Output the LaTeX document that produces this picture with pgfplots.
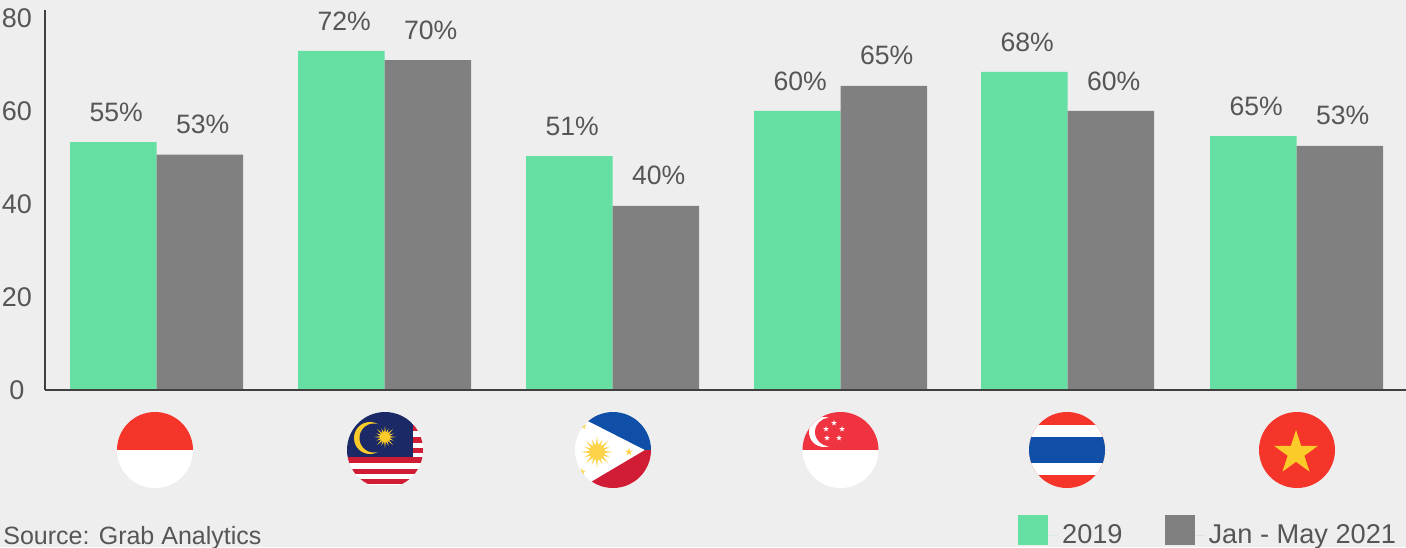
\documentclass[border=0pt]{standalone}
\usepackage{pgfplots}
\pgfplotsset{compat=1.18}
\usepackage{fontspec}
\setmainfont{Liberation Sans}
\definecolor{bg}{HTML}{EEEEEE}
\definecolor{barg}{HTML}{66DFA3}
\definecolor{bargr}{HTML}{808080}
\definecolor{txt}{HTML}{565656}
\definecolor{axl}{HTML}{404040}
\definecolor{fred}{HTML}{F5352A}
\definecolor{fblue}{HTML}{0F4FA8}
\definecolor{fnavy}{HTML}{1B2A66}
\definecolor{fyel}{HTML}{FBCB2A}
\definecolor{fcrim}{HTML}{D01C34}
\definecolor{fsg}{HTML}{EF3340}
\newcommand\pstar[4]{\fill[#4,shift={(#1,#2)}] (-90:#3) -- (-54:#3*.382) -- (-18:#3) -- (18:#3*.382) -- (54:#3) -- (90:#3*.382) -- (126:#3) -- (162:#3*.382) -- (198:#3) -- (234:#3*.382) -- cycle;}
\newcommand\psun[4]{\begin{scope}[shift={(#1,#2)}]
\fill[#4] (0,0) circle[radius=#3*.5];
\foreach \a in {0,45,...,315}{\fill[#4] (\a-9:#3*.45) -- (\a:#3) -- (\a+9:#3*.45) -- cycle;}
\foreach \a in {22.5,67.5,...,337.5}{\fill[#4] (\a-9:#3*.45) -- (\a:#3*.85) -- (\a+9:#3*.45) -- cycle;}
\end{scope}}
\begin{document}
\begin{tikzpicture}[x=.5pt,y=-.5pt]
\path[use as bounding box,fill=bg] (0,0) rectangle (1406,547);
\begin{axis}[
  at={(22.5pt,-195pt)},anchor=south west,
  scale only axis,width=680.5pt,height=190pt,
  xmin=45,xmax=1406,ymin=0,ymax=81.7,
  axis x line*=bottom,axis y line*=left,
  axis line style={axl,line width=1pt,-},
  axis on top,
  xtick=\empty,
  ytick={0,20,40,60,80},
  major tick length=0pt,
  tick style={draw=none},
  /pgf/number format/assume math mode=true,
  yticklabel style={anchor=center,xshift=-14pt,font=\fontsize{13.5}{15}\selectfont,text=txt},
  ybar=0pt,
  bar width=86.5,
  clip=false,
  point meta=explicit symbolic,
  nodes near coords,
  every node near coord/.append style={anchor=center,yshift=15pt,xshift=1.5pt,font=\fontsize{13.3}{15}\selectfont,text=txt},
  legend columns=2,
  legend cell align=left,
  legend image code/.code={\fill[#1] (0pt,-5pt) rectangle (15pt,10pt);\path (0pt,0pt) -- (20pt,0pt);},
  legend style={at={(0.715,-0.376)},anchor=west,draw=none,fill=none,inner sep=0pt,outer sep=0pt,
    font=\fontsize{13.6}{15}\selectfont,text=txt,
    /tikz/every even column/.append style={column sep=19pt}},
]
\addplot[fill=barg,draw=none,bar shift=-43.25] coordinates {
 (156.5,53.3)[55\%] (384.5,72.9)[72\%] (612.5,50.3)[51\%] (840.5,60)[60\%] (1067.5,68.4)[68\%] (1296.5,54.6)[65\%]};
\addplot[fill=bargr,draw=none,bar shift=43.25] coordinates {
 (156.5,50.6)[53\%] (384.5,70.9)[70\%] (612.5,39.6)[40\%] (840.5,65.4)[65\%] (1067.5,60)[60\%] (1296.5,52.5)[53\%]};
\legend{2019,Jan - May 2021}
\end{axis}
% Indonesia
\begin{scope}
\clip (155,450) circle[radius=38];
\fill[fred] (110,405) rectangle (200,450);
\fill[white] (110,450) rectangle (200,495);
\end{scope}
% Malaysia
\begin{scope}
\clip (385,450) circle[radius=38];
\clip (340,405) rectangle (430,484);
\fill[white] (340,405) rectangle (430,490);
\fill[fcrim] (340,457) rectangle (430,463);
\fill[fcrim] (340,469) rectangle (430,474);
\fill[fcrim] (340,479) rectangle (430,484);
\fill[fcrim] (413,425) rectangle (430,431);
\fill[fcrim] (413,437) rectangle (430,443);
\fill[fcrim] (413,448) rectangle (430,453);
\fill[fnavy] (340,405) rectangle (413,457);
\fill[fyel] (370,438) circle[radius=16];
\fill[fnavy] (374,438) circle[radius=14.5];
\psun{385}{437}{11}{fyel}
\end{scope}
% Philippines
\begin{scope}
\clip (613,450) circle[radius=38];
\fill[white] (570,405) rectangle (660,495);
\fill[fblue] (588,421) -- (645,450) -- (660,450) -- (660,400) -- (588,400) -- cycle;
\fill[fcrim] (591,482) -- (645,450) -- (660,450) -- (660,500) -- (591,500) -- cycle;
\psun{597}{452}{16}{fyel!85!white}
\pstar{629}{452}{4}{fyel!85!white}
\pstar{583}{426}{4}{fyel!85!white}
\pstar{582}{472}{4}{fyel!85!white}
\end{scope}
% Singapore
\begin{scope}
\clip (840.5,450) circle[radius=38];
\fill[fsg] (800,405) rectangle (880,450);
\fill[white] (800,450) rectangle (880,495);
\fill[white] (824,432) circle[radius=15];
\fill[fsg] (829,432) circle[radius=14];
\pstar{834}{423}{3}{white}
\pstar{842}{429}{3}{white}
\pstar{839}{438}{3}{white}
\pstar{827}{438}{3}{white}
\pstar{826}{429}{3}{white}
\end{scope}
% Thailand
\begin{scope}
\clip (1067,450) circle[radius=38];
\fill[fred] (1020,405) rectangle (1110,495);
\fill[white] (1020,425) rectangle (1110,475);
\fill[fblue] (1020,437) rectangle (1110,463);
\end{scope}
% Vietnam
\fill[fred] (1297,450) circle[radius=38];
\pstar{1296}{453}{23}{fyel}
% Source
\node[anchor=base west,inner sep=0pt,text=txt,font=\fontsize{12.5}{15}\selectfont] at (3,544) {Source: Grab Analytics};
\end{tikzpicture}
\end{document}
